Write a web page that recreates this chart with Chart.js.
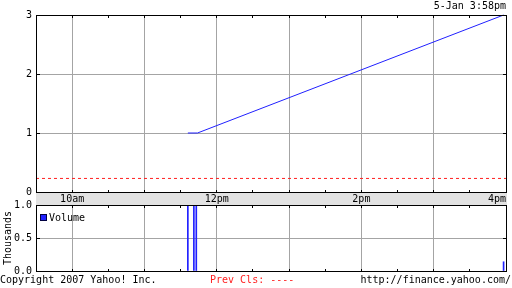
<!DOCTYPE html>
<html>
<head>
<meta charset="utf-8">
<script src="https://cdn.jsdelivr.net/npm/chart.js@4.4.1/dist/chart.umd.min.js"></script>
<style>
  html, body { margin:0; padding:0; background:#fff; }
  #wrap { position:relative; width:512px; height:288px; overflow:hidden;
          font-family:'DejaVu Sans Mono', monospace; font-size:10px; line-height:10px; color:#000; }
  #wrap canvas { position:absolute; left:0; top:0; }
  .txt { position:absolute; white-space:pre; }
  .key { display:inline-block; width:5px; height:5px; background:#2020ff; border:1px solid #000040; margin-right:2px; vertical-align:0; }
</style>
</head>
<body>
<div id="wrap">
  <canvas id="priceChart" width="512" height="288"></canvas>
  <canvas id="volChart" width="512" height="288"></canvas>
  <div class="txt" style="right:6px;top:1px">5-Jan 3:58pm</div>
  <div class="txt" style="left:40px;top:213px"><span class="key"></span>Volume</div>
  <div class="txt" style="left:0;top:275px">Copyright 2007 Yahoo! Inc.</div>
  <div class="txt" style="left:210px;top:275px;color:#ff2020">Prev Cls: ----</div>
  <div class="txt" style="right:1px;top:275px">http://finance.yahoo.com/</div>
</div>
<script>
// ---- data (times are minutes after midnight) ----
const priceTimes   = ['11:36', '11:44', '15:58'];
const priceValues  = [1.0, 1.0, 3.0];
const prevClose    = 0.23;
const volTimes     = ['11:36', '11:41', '11:43', '15:58'];
const volValues    = [1.3, 1.2, 1.25, 0.14];   // thousands
const labelTimes   = ['10:00', '12:00', '14:00', '16:00'];
const timeLabels   = ['10am', '12pm', '2pm', '4pm'];
const openTime = '9:30', closeTime = '16:00';

const toMin = s => { const [h, m] = s.split(':').map(Number); return h * 60 + m; };
const xMin = toMin(openTime), xMax = toMin(closeTime);
const labelAt = {};
labelTimes.forEach((t, i) => labelAt[toMin(t)] = timeLabels[i]);

const FONT = { family: "'DejaVu Sans Mono', monospace", size: 10 };
const GRID = '#a4a4a4';
const BLUE = '#2020ff';

// frame, gray time band and little inward tick marks
const framePlugin = {
  id: 'frame',
  beforeDraw(chart, args, opts) {
    if (!opts.band) return;
    const { ctx, chartArea } = chart;
    const x = chart.scales.x;
    ctx.save();
    ctx.fillStyle = '#e2e2e2';
    ctx.fillRect(chartArea.left, x.top, chartArea.right - chartArea.left + 1, x.bottom - x.top);
    ctx.restore();
  },
  afterDraw(chart) {
    const { ctx, chartArea: { left, right, top, bottom }, scales: { x, y } } = chart;
    const al = p => Math.round(p - 0.5) + 0.5;
    ctx.save();
    ctx.strokeStyle = '#000';
    ctx.lineWidth = 1;
    ctx.beginPath();
    x.ticks.forEach(t => {
      const px = al(x.getPixelForValue(t.value));
      ctx.moveTo(px, top); ctx.lineTo(px, top + 3);
      ctx.moveTo(px, bottom + 1); ctx.lineTo(px, bottom - 2);
    });
    y.ticks.forEach(t => {
      const py = al(y.getPixelForValue(t.value));
      ctx.moveTo(left, py); ctx.lineTo(left + 4, py);
      ctx.moveTo(right + 1, py); ctx.lineTo(right - 3, py);
    });
    ctx.stroke();
    ctx.strokeRect(left + 0.5, top + 0.5, right - left, bottom - top);
    ctx.restore();
  }
};

const xGrid = {
  color: c => (c.tick && c.tick.value % 60 === 0) ? GRID : 'rgba(0,0,0,0)',
  drawTicks: false
};

new Chart(document.getElementById('priceChart'), {
  type: 'line',
  data: {
    datasets: [
      { data: priceTimes.map((t, i) => ({ x: toMin(t), y: priceValues[i] })),
        borderColor: BLUE, borderWidth: 1, pointRadius: 0, tension: 0, clip: 2 },
      { data: [{ x: xMin, y: prevClose }, { x: xMax, y: prevClose }],
        borderColor: '#ff2020', borderWidth: 1, borderDash: [3, 3], pointRadius: 0 }
    ]
  },
  options: {
    responsive: false, animation: false, events: [],
    layout: { padding: { left: 0, top: 15, right: 6, bottom: 83 } },
    plugins: { legend: { display: false }, tooltip: { enabled: false }, frame: { band: true } },
    scales: {
      x: {
        type: 'linear', min: xMin, max: xMax,
        ticks: { stepSize: 30, autoSkip: false, maxRotation: 0, padding: 1, color: '#000', font: FONT,
                 callback: v => v === xMax ? labelAt[v] + '   ' : (labelAt[v] || '') },
        grid: xGrid, border: { display: false },
        afterFit: s => { s.height = 13; s.paddingLeft = 0; s.paddingRight = 0; }
      },
      y: {
        min: 0, max: 3,
        ticks: { stepSize: 1, padding: 4, color: '#000', font: FONT },
        grid: { color: c => (c.tick.value > 0 && c.tick.value < 3) ? GRID : 'rgba(0,0,0,0)', drawTicks: false },
        border: { display: false },
        afterFit: s => { s.width = 36; s.paddingTop = 0; s.paddingBottom = 0; }
      }
    }
  },
  plugins: [framePlugin]
});

new Chart(document.getElementById('volChart'), {
  type: 'bar',
  data: {
    datasets: [
      { data: volTimes.map((t, i) => ({ x: toMin(t), y: volValues[i] })),
        backgroundColor: BLUE, borderWidth: 0, barThickness: 1 }
    ]
  },
  options: {
    responsive: false, animation: false, events: [],
    layout: { padding: { left: 0, top: 205, right: 6, bottom: 17 } },
    plugins: { legend: { display: false }, tooltip: { enabled: false }, frame: { band: false } },
    scales: {
      x: {
        type: 'linear', min: xMin, max: xMax, offset: false,
        ticks: { stepSize: 30, display: false },
        grid: { ...xGrid, offset: false }, border: { display: false },
        afterFit: s => { s.height = 0; s.paddingLeft = 0; s.paddingRight = 0; }
      },
      y: {
        min: 0, max: 1,
        ticks: { stepSize: 0.5, padding: 4, color: '#000', font: FONT, callback: v => v.toFixed(1) },
        title: { display: true, text: 'Thousands', color: '#000', font: FONT, padding: { top: 2, bottom: 0 } },
        grid: { color: c => c.tick.value === 0.5 ? GRID : 'rgba(0,0,0,0)', drawTicks: false },
        border: { display: false },
        afterFit: s => { s.width = 36; s.paddingTop = 0; s.paddingBottom = 0; }
      }
    }
  },
  plugins: [framePlugin]
});
</script>
</body>
</html>
